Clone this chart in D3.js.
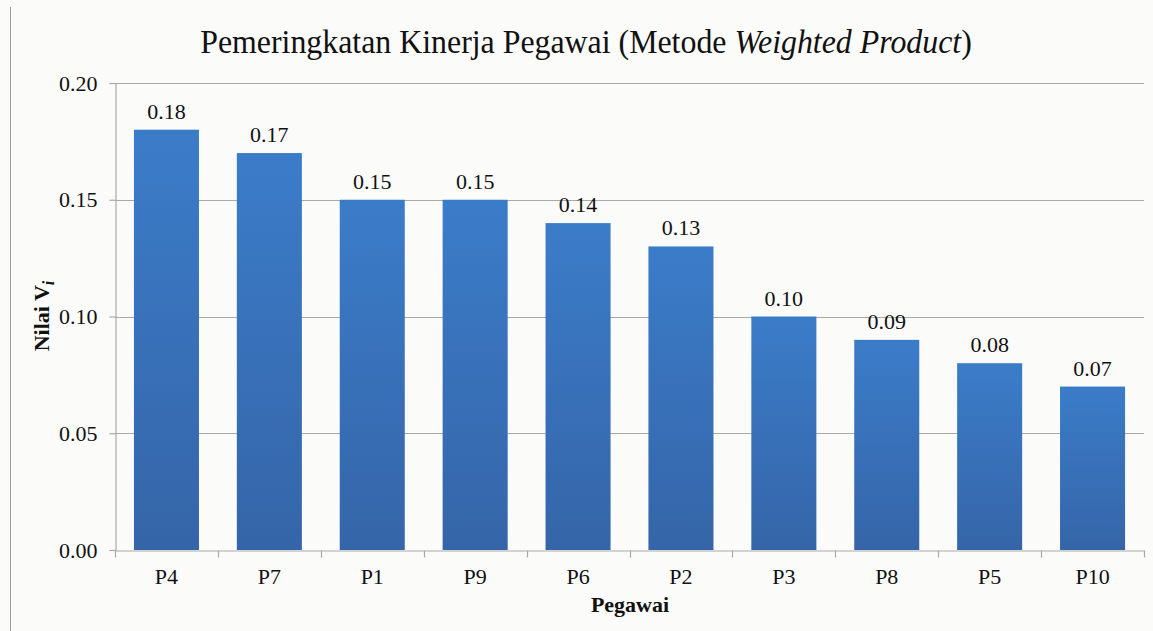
<!DOCTYPE html>
<html>
<head>
<meta charset="utf-8">
<script src="https://cdn.jsdelivr.net/npm/d3@7"></script>
<style>
  body { margin: 0; background: #fbfbfa; }
</style>
</head>
<body>
<div id="chart"></div>
<script>
const categories = ['P4', 'P7', 'P1', 'P9', 'P6', 'P2', 'P3', 'P8', 'P5', 'P10'];
const values = [0.18, 0.17, 0.15, 0.15, 0.14, 0.13, 0.10, 0.09, 0.08, 0.07];
const yTicks = [0, 0.05, 0.10, 0.15, 0.20];

const width = 1153, height = 631;
const margin = { top: 83, right: 9, bottom: 81, left: 115 };
const FONT = 'Liberation Serif, Times New Roman, serif';
const GRID = '#a9a9a9';

const svg = d3.select('#chart')
  .append('svg')
  .attr('width', width)
  .attr('height', height)
  .style('display', 'block')
  .style('font-family', FONT);

svg.append('rect')
  .attr('width', width).attr('height', height)
  .attr('fill', '#fbfbfa');

// frame line on the left edge
svg.append('line')
  .attr('x1', 10.5).attr('x2', 10.5)
  .attr('y1', 7).attr('y2', height)
  .attr('stroke', '#9a9a9a');

const grad = svg.append('defs').append('linearGradient')
  .attr('id', 'barGrad')
  .attr('x1', 0).attr('y1', 0).attr('x2', 0).attr('y2', 1);
grad.append('stop').attr('offset', '0%').attr('stop-color', '#3b7cc9');
grad.append('stop').attr('offset', '100%').attr('stop-color', '#3565a8');

const x = d3.scaleBand()
  .domain(categories)
  .range([margin.left, width - margin.right])
  .paddingInner(0.368)
  .paddingOuter(0.184);

const y = d3.scaleLinear()
  .domain([0, 0.20])
  .range([height - margin.bottom, margin.top]);

// gridlines
svg.append('g')
  .selectAll('line')
  .data(yTicks.slice(1))
  .enter()
  .append('line')
  .attr('x1', margin.left)
  .attr('x2', width - margin.right)
  .attr('y1', d => Math.round(y(d)) + 0.5)
  .attr('y2', d => Math.round(y(d)) + 0.5)
  .attr('stroke', GRID)
  .attr('stroke-width', 1.2);

// bars
svg.append('g')
  .selectAll('rect')
  .data(values)
  .enter()
  .append('rect')
  .attr('x', (d, i) => x(categories[i]))
  .attr('y', d => y(d))
  .attr('width', x.bandwidth())
  .attr('height', d => y(0) - y(d))
  .attr('fill', 'url(#barGrad)');

// value labels
svg.append('g')
  .selectAll('text')
  .data(values)
  .enter()
  .append('text')
  .attr('x', (d, i) => x(categories[i]) + x.bandwidth() / 2)
  .attr('y', d => y(d) - 11)
  .attr('text-anchor', 'middle')
  .attr('font-size', 22)
  .attr('fill', '#111')
  .style('font-family', FONT)
  .text(d => d.toFixed(2));

// y axis
const yAxis = svg.append('g')
  .attr('transform', `translate(${margin.left + 0.5},0)`)
  .call(d3.axisLeft(y).tickValues(yTicks).tickSize(6).tickPadding(12).tickFormat(d3.format('.2f')));
yAxis.select('.domain').attr('stroke', GRID).attr('stroke-width', 1.2);
yAxis.selectAll('.tick line').attr('stroke', GRID).attr('stroke-width', 1.2);
yAxis.selectAll('.tick text')
  .attr('font-size', 22)
  .attr('fill', '#111')
  .style('font-family', FONT);

// x axis
const xAxis = svg.append('g')
  .attr('transform', `translate(0,${Math.round(y(0)) + 0.5})`)
  .call(d3.axisBottom(x).tickSize(0).tickPadding(18));
xAxis.select('.domain').attr('stroke', GRID).attr('stroke-width', 1.2);
xAxis.selectAll('.tick text')
  .attr('font-size', 22)
  .attr('fill', '#111')
  .style('font-family', FONT);

// category boundary ticks
const step = x.step();
const start = x(categories[0]) - x.paddingOuter() * step;
const bounds = d3.range(categories.length + 1).map(i => start + i * step);
xAxis.append('g')
  .selectAll('line')
  .data(bounds)
  .enter()
  .append('line')
  .attr('x1', d => Math.round(d) + 0.5)
  .attr('x2', d => Math.round(d) + 0.5)
  .attr('y1', 0).attr('y2', 7)
  .attr('stroke', GRID)
  .attr('stroke-width', 1.2);

// title (squeezed horizontally to the reference width)
const title = svg.append('text')
  .attr('text-anchor', 'middle')
  .attr('font-size', 33)
  .attr('fill', '#111')
  .style('font-family', FONT);
title.append('tspan').text('Pemeringkatan Kinerja Pegawai (Metode ');
title.append('tspan').attr('font-style', 'italic').text('Weighted Product');
title.append('tspan').text(')');
const tw = title.node().getComputedTextLength();
title.attr('transform', `translate(586,53) scale(${772 / tw},1)`);

// axis titles
svg.append('text')
  .attr('x', 630)
  .attr('y', 612)
  .attr('text-anchor', 'middle')
  .attr('font-size', 22)
  .attr('font-weight', 'bold')
  .attr('fill', '#111')
  .style('font-family', FONT)
  .text('Pegawai');

const yl = svg.append('text')
  .attr('transform', 'translate(49,316) rotate(-90)')
  .attr('text-anchor', 'middle')
  .attr('font-size', 22)
  .attr('font-weight', 'bold')
  .attr('fill', '#111')
  .style('font-family', FONT);
yl.append('tspan').text('Nilai V');
yl.append('tspan').attr('font-style', 'italic').attr('font-size', 16).attr('dy', 5).text('i');
</script>
</body>
</html>
